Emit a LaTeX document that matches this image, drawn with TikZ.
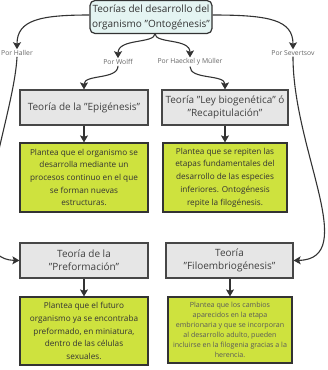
\documentclass[tikz,border=0pt]{standalone}
\usepackage{fontspec}
\setmainfont{Open Sans}
\usetikzlibrary{arrows.meta}
\definecolor{lineC}{HTML}{333333}
\definecolor{greenF}{RGB}{206,226,62}
\definecolor{grayF}{HTML}{E6E6E6}
\definecolor{topF}{HTML}{E4F4F2}
\definecolor{lblC}{HTML}{666666}
\tikzset{
  conn/.style={draw=lineC, line width=1.1pt, -{Stealth[length=7pt,width=8pt,inset=1.5pt]}},
  topbox/.style={draw=lineC, line width=1.2pt, fill=topF, rounded corners=5pt, minimum width=122pt, minimum height=33pt, inner sep=0pt, align=center, font=\fontsize{10}{15}\selectfont, text=black!80},
  graybox/.style={draw=lineC!90, line width=1.2pt, fill=grayF, minimum height=35pt, inner sep=0pt, align=center, font=\fontsize{10}{13}\selectfont, text=black!75},
  greenbox/.style={draw=lineC, line width=1.2pt, fill=greenF, inner sep=0pt, align=center, font=\fontsize{8.2}{12.7}\selectfont, text=black!80},
  lbl/.style={inner sep=1pt, font=\fontsize{6.8}{8}\selectfont, text=lblC},
}
\begin{document}
\begin{tikzpicture}[x=1pt,y=-1pt]
\useasboundingbox (0,0) rectangle (328,370);
\begin{scope}
\clip (0,0) rectangle (328,370);
\node[topbox] (top) at (151,17) {Teorías del desarrollo del\\organismo "Ontogénesis"};
\node[lbl] (haller) at (17,53) {Por Haller};
\node[lbl] (wolff) at (118,62) {Por Wolff};
\node[lbl] (haeckel) at (190,62) {Por Haeckel y Müller};
\node[lbl] (sever) at (293,53) {Por Severtsov};

\node[graybox, minimum width=128pt] (epi) at (84,107.5) {Teoría de la "Epigénesis"};
\node[graybox, minimum width=126pt] (recap) at (225,107.5) {Teoría "Ley biogenética" ó\\"Recapitulación"};
\node[greenbox, minimum width=128pt, minimum height=69pt] (g1) at (84,177.5) {Plantea que el organismo se\\desarrolla mediante un\\procesos continuo en el que\\se forman nuevas\\estructuras.};
\node[greenbox, minimum width=124pt, minimum height=69pt] (g2) at (225,177.5) {Plantea que se repiten las\\etapas fundamentales del\\desarrollo de las especies\\inferiores. Ontogénesis\\repite la filogénesis.};

\node[graybox, minimum width=128pt] (pref) at (84,260.5) {Teoría de la\\"Preformación"};
\node[graybox, minimum width=127pt] (filo) at (229.5,260.5) {Teoría\\"Filoembriogénesis"};
\node[greenbox, minimum width=128pt, minimum height=68pt] (g3) at (84,331) {Plantea que el futuro\\organismo ya se encontraba\\preformado, en miniatura,\\dentro de las células\\sexuales.};
\node[greenbox, minimum width=124pt, minimum height=66pt, font=\fontsize{7.1}{10}\selectfont, text=black!65] (g4) at (230,330) {Plantea que los cambios\\aparecidos en la etapa\\embrionaria y que se incorporan\\al desarrollo adulto, pueden\\incluirse en la filogenia gracias a la\\herencia.};

\coordinate (tb) at (155,33.6);
\draw[conn] (top.west |- 0,15) .. controls (40,15) and (17,20) .. (haller.north);
\draw[conn] (top.east |- 0,15) .. controls (270,15) and (293,20) .. (sever.north);
\draw[conn] (tb) .. controls (155,44) and (118,38) .. (wolff.north);
\draw[conn] (tb) .. controls (155,44) and (190,38) .. (haeckel.north);
\draw[conn] (wolff.south) .. controls (118,80) and (84,74) .. (epi.north);
\draw[conn] (haeckel.south) .. controls (190,80) and (225,74) .. (recap.north);
\draw[conn] (epi) -- (g1);
\draw[conn] (recap) -- (g2);
\draw[conn] (pref) -- (g3);
\draw[conn] (filo.south -| g4.north) -- (g4.north);
\draw[conn] (haller.south) .. controls (14,120) and (-45,259) .. (pref.west);
\draw[conn] (sever.south) .. controls (293,150) and (360,259) .. (filo.east);
\end{scope}
\end{tikzpicture}
\end{document}
